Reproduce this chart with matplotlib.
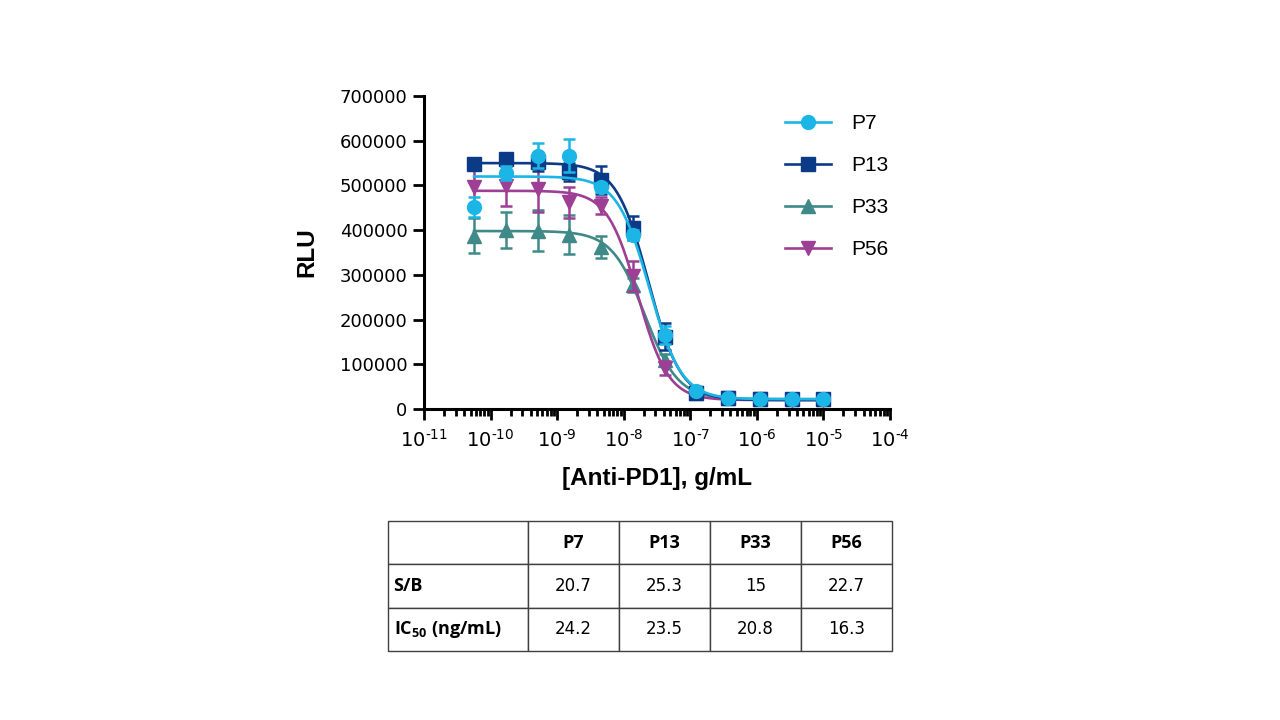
import matplotlib
matplotlib.use("Agg")
import matplotlib.pyplot as plt
import numpy as np
from matplotlib.table import Table
from matplotlib.ticker import LogLocator, FuncFormatter, NullFormatter

plt.rcParams['font.family'] = ['Liberation Sans', 'DejaVu Sans']
plt.rcParams['mathtext.fontset'] = 'custom'
plt.rcParams['mathtext.rm'] = 'DejaVu Sans'
plt.rcParams['mathtext.bf'] = 'Open Sans:bold'
plt.rcParams['axes.unicode_minus'] = False

# concentrations, g/mL (3-fold dilution series)
conc = [5.65e-11, 1.69e-10, 5.08e-10, 1.52e-9, 4.57e-9, 1.37e-8,
        4.12e-8, 1.23e-7, 3.70e-7, 1.11e-6, 3.33e-6, 1.0e-5]

names = ["P7", "P13", "P33", "P56"]
colors = ["#1cb6e6", "#0b3a86", "#3f8a88", "#9e3f96"]
markers = ["o", "s", "^", "v"]

# RLU means (x1000)
p7 = [452, 528, 566, 566, 496, 389, 165, 40, 25, 23, 23, 23]
p13 = [549, 560, 553, 530, 512, 405, 162, 36, 25, 22, 22, 22]
p33 = [388, 400, 399, 390, 362, 277, 110, 36, 24, 22, 22, 22]
p56 = [496, 498, 491, 462, 455, 298, 92, 36, 24, 22, 21, 21]
# error bars (x1000)
p7_err = [22, 15, 28, 37, 10, 12, 20, 5, 4, 3, 3, 3]
p13_err = [8, 6, 20, 20, 31, 26, 30, 5, 4, 3, 3, 3]
p33_err = [40, 40, 45, 43, 24, 15, 12, 4, 3, 3, 3, 3]
p56_err = [50, 45, 50, 35, 20, 33, 15, 4, 3, 3, 3, 3]

# 4PL fit parameters
top = [520, 550, 398, 488]
bottom = [22, 20, 22, 20]
ic50 = [24.2, 23.5, 20.8, 16.3]   # ng/mL
hill = [1.8, 1.8, 1.75, 1.9]

# table
sb = ["20.7", "25.3", "15", "22.7"]
ic50_txt = ["24.2", "23.5", "20.8", "16.3"]

means = [p7, p13, p33, p56]
errs = [p7_err, p13_err, p33_err, p56_err]
zorders = [6, 5, 3, 4]


def pow10(x, pos):
    return r"$\mathrm{10}^{\text{%d}}$" % int(round(np.log10(x)))


fig = plt.figure(figsize=(12.8, 7.2), dpi=100)
ax = fig.add_axes([424/1280, 311/720, 466/1280, 313/720])

xs = np.logspace(np.log10(conc[0]), np.log10(conc[-1]), 300)
for i in range(4):
    y = np.array(means[i]) * 1000
    e = np.array(errs[i]) * 1000
    fit = bottom[i] + (top[i] - bottom[i]) / (1 + (xs / (ic50[i] * 1e-9)) ** hill[i])
    ax.plot(xs, fit * 1000, color=colors[i], lw=1.9, zorder=zorders[i])
    ax.errorbar(conc, y, yerr=e, fmt=markers[i], color=colors[i], ms=10,
                elinewidth=1.8, capsize=4.5, capthick=1.8, zorder=zorders[i])
    ax.plot([], [], color=colors[i], marker=markers[i], ms=10, lw=1.9, label=names[i])

ax.set_xscale("log")
ax.set_xlim(1e-11, 1e-4)
ax.set_ylim(0, 700000)
ax.set_yticks(np.arange(0, 700001, 100000))
ax.xaxis.set_major_locator(LogLocator(base=10, numticks=20))
ax.xaxis.set_major_formatter(FuncFormatter(pow10))
ax.xaxis.set_minor_locator(LogLocator(base=10, subs=np.arange(2, 10), numticks=20))
ax.xaxis.set_minor_formatter(NullFormatter())

for s in ["top", "right"]:
    ax.spines[s].set_visible(False)
for s in ["left", "bottom"]:
    ax.spines[s].set_linewidth(2.2)
ax.tick_params(which="major", length=8, width=2, labelsize=13, pad=4)
ax.tick_params(axis="x", which="major", pad=6, labelsize=14)
ax.tick_params(which="minor", length=5, width=2)
for lab in ax.get_xticklabels() + ax.get_yticklabels():
    lab.set_fontfamily("DejaVu Sans")
ax.set_ylabel("RLU", fontsize=17.5, fontweight="bold")
ax.yaxis.set_label_coords(-0.227, 0.5)
ax.set_xlabel("[Anti-PD1], g/mL", fontsize=17.5, fontweight="bold", labelpad=12)

ax.legend(loc="upper left", bbox_to_anchor=(775/1280, 1 - 104/720),
          bbox_transform=fig.transFigure, frameon=False, fontsize=15,
          handlelength=2.2, handletextpad=0.95, labelspacing=1.1, borderpad=0)

# table below the chart
tax = fig.add_axes([388/1280, 69/720, 504/1280, 130/720])
tax.axis("off")
tb = Table(tax, bbox=[0, 0, 1, 1])
widths = [140/504] + [91/504] * 4
rows = [[""] + names, ["S/B"] + sb, [r"$\mathbf{IC_{50}}$ (ng/mL)"] + ic50_txt]
for r, row in enumerate(rows):
    for c, txt in enumerate(row):
        cell = tb.add_cell(r, c, width=widths[c], height=1/3, text=txt,
                           loc="left" if c == 0 else "center")
        cell.set_edgecolor("#404040")
        cell.set_linewidth(1.0)
        cell.PAD = 0.04
tb.auto_set_font_size(False)
tb.set_fontsize(12)
for (r, c), cell in tb.get_celld().items():
    t = cell.get_text()
    if r == 0 or c == 0:
        t.set_fontfamily("Open Sans")
        t.set_fontweight("bold")
        t.set_fontsize(13)
    else:
        t.set_fontfamily("DejaVu Sans")
tax.add_table(tb)

fig.savefig("out.png", dpi=100)
